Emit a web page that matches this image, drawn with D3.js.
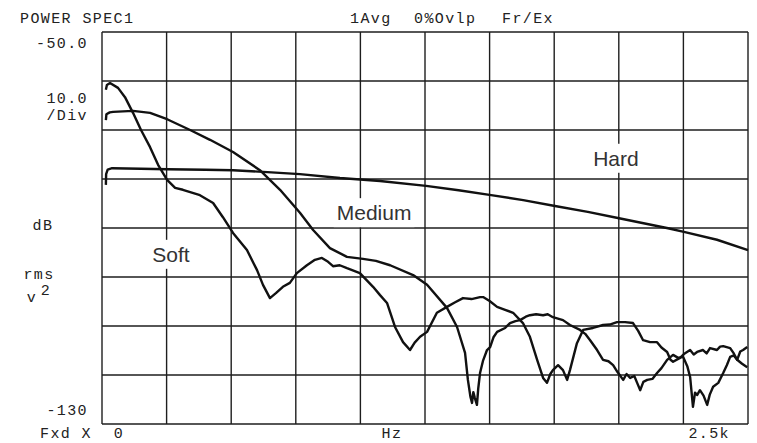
<!DOCTYPE html>
<html>
<head>
<meta charset="utf-8">
<script src="https://cdn.jsdelivr.net/npm/d3@7"></script>
<style>
  body { margin: 0; background: #fff; }
  .mono { font-family: "Liberation Mono", "DejaVu Sans Mono", monospace; font-size: 15px; letter-spacing: 1.4px; fill: #222; }
  .lbl { font-family: "Liberation Sans", Arial, sans-serif; font-size: 21px; fill: #333; }
</style>
</head>
<body>
<svg id="chart" width="757" height="443"></svg>
<script>
// frequency axis (Hz) and level axis (dB rms V^2)
var freqTicks = d3.range(0, 2501, 250);
var dbTicks = d3.range(-130, -49, 10);

// curves: [Hz, dB]
var hard = [[15,-81.2],[16,-79.0],[22,-78.1],[39,-77.8],[150,-77.9],[252,-78.0],[400,-78.1],[507,-78.2],
  [640,-78.6],[766,-79.0],[921,-79.8],[1076,-80.4],[1254,-81.4],[1380,-82.3],[1506,-83.3],[1630,-84.3],
  [1753,-85.5],[1880,-86.7],[2001,-88.0],[2186,-90.0],[2252,-90.8],[2380,-92.4],[2500,-94.5]];

var medium = [[15,-68.0],[17,-66.8],[30,-66.4],[43,-66.3],[120,-66.1],[186,-66.5],[252,-67.8],[341,-70.0],
  [418,-72.0],[507,-74.5],[611,-78.2],[689,-82.2],[766,-86.9],[817,-90.4],[882,-94.1],[948,-95.9],
  [1010,-96.3],[1060,-96.7],[1115,-97.6],[1204,-99.6],[1258,-101.6],[1335,-106.3],[1374,-110.2],[1405,-115.5],
  [1416,-121.0],[1426,-124.5],[1432,-125.7],[1437,-123.5],[1443,-124.7],[1451,-126.1],[1456,-122.8],[1463,-119.6],
  [1475,-117.0],[1490,-114.9],[1502,-114.3],[1515,-112.3],[1529,-111.2],[1560,-110.4],[1579,-109.4],[1600,-109.0],
  [1618,-108.8],[1640,-108.1],[1656,-107.8],[1680,-107.6],[1707,-107.8],[1725,-107.6],[1745,-108.2],[1784,-108.8],
  [1811,-109.8],[1850,-110.8],[1870,-111.6],[1889,-112.9],[1916,-114.9],[1939,-116.9],[1960,-117.2],[1978,-118.0],
  [1995,-119.4],[2017,-121.0],[2030,-119.8],[2044,-120.6],[2060,-120.2],[2071,-121.6],[2083,-123.1],[2095,-121.4],
  [2110,-121.0],[2130,-120.8],[2148,-119.6],[2165,-118.6],[2187,-116.9],[2210,-115.9],[2230,-116.5],[2249,-116.3],
  [2265,-118.2],[2276,-120.4],[2287,-126.5],[2295,-123.6],[2303,-124.1],[2314,-123.1],[2328,-124.2],[2342,-126.1],
  [2352,-124.0],[2365,-122.4],[2385,-121.6],[2404,-119.6],[2418,-118.0],[2431,-116.3],[2445,-116.0],[2458,-116.9],
  [2470,-115.2],[2481,-114.9],[2497,-114.3]];

var soft = [[15,-61.8],[19,-60.8],[31,-60.4],[62,-61.4],[89,-63.3],[120,-66.5],[151,-70.0],[186,-73.5],
  [217,-77.1],[252,-80.2],[283,-81.8],[313,-82.2],[379,-83.3],[430,-84.9],[468,-87.8],[507,-91.0],
  [561,-94.5],[600,-98.6],[623,-101.6],[650,-104.3],[673,-103.3],[700,-102.0],[727,-101.2],[754,-99.2],
  [793,-97.6],[824,-96.5],[851,-96.1],[875,-96.9],[894,-97.8],[920,-97.6],[948,-98.2],[998,-99.2],
  [1049,-102.0],[1076,-103.7],[1103,-105.3],[1134,-110.2],[1165,-113.3],[1192,-114.9],[1210,-113.4],[1231,-112.2],
  [1258,-111.2],[1296,-107.3],[1335,-106.1],[1365,-105.2],[1397,-104.3],[1430,-104.5],[1463,-104.1],[1475,-104.1],
  [1500,-104.9],[1529,-106.1],[1560,-106.7],[1591,-107.3],[1629,-109.4],[1656,-112.2],[1684,-116.9],[1707,-120.6],
  [1722,-121.6],[1735,-119.8],[1745,-119.0],[1765,-118.0],[1784,-119.0],[1800,-121.0],[1811,-119.0],[1838,-113.5],
  [1862,-110.8],[1900,-110.4],[1939,-109.8],[1965,-109.7],[1993,-109.2],[2024,-109.2],[2055,-109.4],[2075,-111.0],
  [2094,-112.9],[2121,-113.3],[2148,-113.3],[2165,-114.4],[2187,-115.3],[2200,-116.9],[2210,-117.3],[2237,-116.5],
  [2255,-115.6],[2276,-114.9],[2290,-115.8],[2303,-115.3],[2326,-114.9],[2340,-115.6],[2353,-114.5],[2380,-114.9],
  [2392,-114.2],[2404,-114.1],[2431,-114.5],[2445,-115.6],[2458,-116.9],[2477,-117.7],[2497,-118.4]];

var curveLabels = [
  { text: 'Soft',   hz: 267,  db: -96.9 },
  { text: 'Medium', hz: 1053, db: -88.4 },
  { text: 'Hard',   hz: 1989, db: -77.3 }
];

var svg = d3.select('#chart');

var x = d3.scaleLinear().domain([0, 2500]).range([102, 748]);
var y = d3.scaleLinear().domain([-130, -50]).range([424, 32]);

// grid
var grid = svg.append('g').attr('stroke', '#1e1e1e').attr('stroke-width', 1.4);

grid.selectAll('line.v')
    .data(freqTicks)
  .enter().append('line')
    .attr('x1', function(d){ return x(d); })
    .attr('x2', function(d){ return x(d); })
    .attr('y1', y(-50))
    .attr('y2', y(-130));

grid.selectAll('line.h')
    .data(dbTicks)
  .enter().append('line')
    .attr('x1', x(0))
    .attr('x2', x(2500))
    .attr('y1', function(d){ return y(d); })
    .attr('y2', function(d){ return y(d); });

// labels sit on a white patch, breaking the grid lines
var lbl = svg.append('g');
curveLabels.forEach(function(c){
  var t = lbl.append('text')
      .attr('class', 'lbl')
      .attr('x', x(c.hz))
      .attr('y', y(c.db))
      .attr('text-anchor', 'middle')
      .text(c.text);
  var bb = t.node().getBBox();
  lbl.insert('rect', 'text')
      .attr('x', bb.x - 3)
      .attr('y', bb.y - 3)
      .attr('width', bb.width + 6)
      .attr('height', bb.height + 6)
      .attr('fill', '#fff');
});

// traces
var line = d3.line()
    .x(function(d){ return x(d[0]); })
    .y(function(d){ return y(d[1]); });

svg.append('g')
    .selectAll('path')
    .data([hard, medium, soft])
  .enter().append('path')
    .attr('d', line)
    .attr('fill', 'none')
    .attr('stroke', '#111')
    .attr('stroke-width', 2.4)
    .attr('stroke-linejoin', 'round');

// instrument annotations
var notes = [
  { t: 'POWER SPEC1', x: 20,  y: 23, a: 'start' },
  { t: '1Avg',        x: 350, y: 23, a: 'start' },
  { t: '0%Ovlp',      x: 414, y: 23, a: 'start' },
  { t: 'Fr/Ex',       x: 502, y: 23, a: 'start' },
  { t: '-50.0',       x: 88,  y: 48, a: 'end' },
  { t: '10.0',        x: 88,  y: 103, a: 'end' },
  { t: '/Div',        x: 88,  y: 120, a: 'end' },
  { t: 'dB',          x: 43,  y: 230, a: 'middle' },
  { t: 'rms',         x: 39,  y: 279, a: 'middle' },
  { t: 'v',           x: 32,  y: 302, a: 'middle' },
  { t: '2',           x: 46,  y: 295, a: 'middle' },
  { t: '-130',        x: 88,  y: 415, a: 'end' },
  { t: 'Fxd X',       x: 40,  y: 438, a: 'start' },
  { t: '0',           x: 119, y: 438, a: 'middle' },
  { t: 'Hz',          x: 392, y: 438, a: 'middle' },
  { t: '2.5k',        x: 730, y: 438, a: 'end' }
];

svg.append('g')
    .selectAll('text')
    .data(notes)
  .enter().append('text')
    .attr('class', 'mono')
    .attr('x', function(d){ return d.x; })
    .attr('y', function(d){ return d.y; })
    .attr('text-anchor', function(d){ return d.a; })
    .text(function(d){ return d.t; });
</script>
</body>
</html>
